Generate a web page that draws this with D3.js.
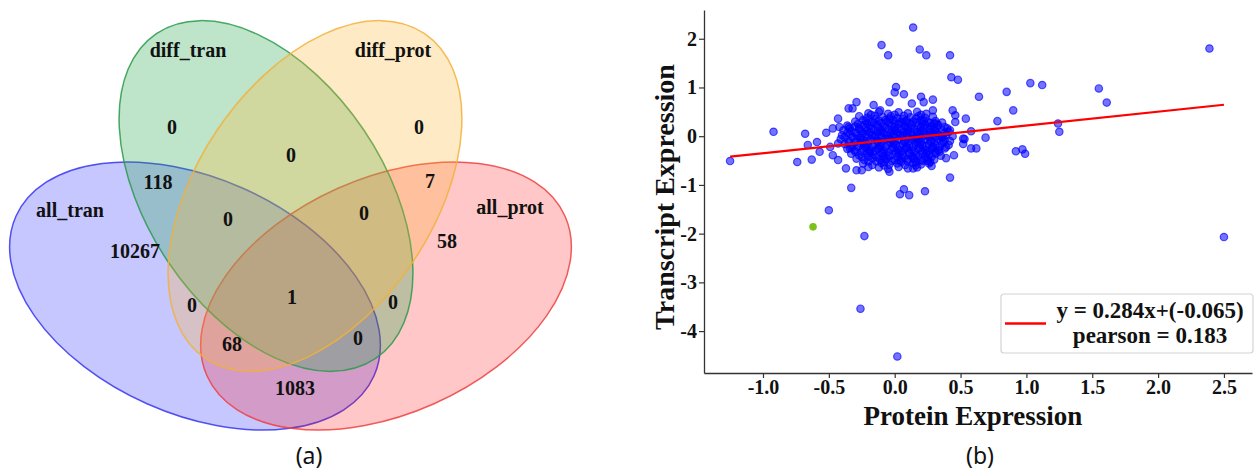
<!DOCTYPE html>
<html>
<head>
<meta charset="utf-8">
<script src="https://cdn.jsdelivr.net/npm/d3@7"></script>
<style>
body { margin: 0; background: #fff; }
text { font-family: "Liberation Serif", "Times New Roman", serif; font-weight: bold; fill: #111; }
.caption { font-family: "Noto Sans", sans-serif; font-weight: normal; }
</style>
</head>
<body>
<script>
// ---- data: venn (a) ----
let setNames = ["all_tran", "all_prot", "diff_tran", "diff_prot"];
let regionSets = [
    "diff_tran", "diff_prot", "diff_tran&diff_prot",
    "all_tran&diff_tran", "all_prot&diff_prot",
    "all_tran&diff_tran&diff_prot", "all_prot&diff_tran&diff_prot",
    "all_tran", "all_prot",
    "all_tran&diff_prot", "all_tran&all_prot&diff_tran&diff_prot", "all_prot&diff_tran",
    "all_tran&all_prot&diff_prot", "all_tran&all_prot&diff_tran",
    "all_tran&all_prot"
];
let regionCounts = [0, 0, 0, 118, 7, 0, 0, 10267, 58, 0, 1, 0, 68, 0, 1083];

// ---- data: scatter (b) ----
let xTicks = [-1.0, -0.5, 0.0, 0.5, 1.0, 1.5, 2.0, 2.5];
let yTicks = [-4, -3, -2, -1, 0, 1, 2];
let fitSlope = 0.284;
let fitIntercept = -0.065;
let fitRange = [-1.25, 2.5];
let legendLines = ["y = 0.284x+(-0.065)", "pearson = 0.183"];
let highlightPoint = [-0.62, -1.86];

let outlierPoints = [
    [-1.25,-0.51],[-0.92,0.09],[-0.74,-0.53],[-0.68,0.05],[-0.66,-0.18],[-0.63,-0.48],[-0.59,-0.12],
    [-0.57,-0.32],[-0.52,0.07],[-0.49,-0.22],[-0.47,-0.39],[-0.43,-0.49],[-0.43,0.36],[-0.42,0.19],
    [-0.47,0.16],[-0.43,-0.15],[-0.35,0.19],[-0.35,0.57],[-0.34,-0.25],
    [-0.5,-1.52],[-0.33,-1.06],[-0.23,-2.05],[-0.26,-3.54],[0.02,-4.52],
    [-0.1,1.87],[-0.05,1.66],[0.14,2.23],[0.19,1.78],[0.24,1.66],[0.42,1.66],[0.43,1.21],[0.48,1.16],
    [0.64,0.81],[0.85,0.91],[0.9,0.53],[0.78,0.31],[0.69,-0.03],[0.92,-0.31],[0.97,-0.27],[0.99,-0.36],
    [1.03,1.09],[1.12,1.05],[1.24,0.26],[1.25,0.09],[1.55,0.98],[1.61,0.69],[2.39,1.8],[2.5,-2.07],
    [0.42,-0.85],[0.04,-1.19],[0.07,-1.09],[0.11,-1.21],[0.23,-1.13],
    [-0.29,0.7],[-0.32,0.57],[-0.29,-0.7],[0.01,1.01],[0.0,0.9],[0.07,0.86],[-0.04,0.7],[0.2,0.81],
    [0.29,0.75],[-0.16,0.64],[-0.11,0.53],[0.13,0.67],[0.22,0.7],
    [0.54,0.36],[0.58,0.1],[0.52,-0.05],[0.45,-0.39],[0.39,-0.45],[0.52,-0.16],[0.62,-0.25],[0.58,-0.25],
    [0.44,0.53],[0.46,0.29],[0.42,0.12],[0.29,0.53],[0.32,0.26],[0.34,-0.32],[0.27,-0.53],[0.14,-0.66],
    [-0.04,-0.73],[-0.2,-0.63],[-0.25,-0.7],[0.46,0.43],[0.53,-0.06],[0.28,-0.61],[-0.37,-0.66]
];

let clusterPoints = [
    [-0.2,0.47],[-0.12,0.5],[-0.05,0.46],[0.03,0.49],[0.1,0.47],[0.17,0.5],[0.24,0.46],
    [-0.27,0.41],[-0.21,0.38],[-0.15,0.42],[-0.09,0.39],[-0.03,0.41],[0.02,0.37],[0.07,0.42],[0.12,0.39],[0.18,0.41],[0.23,0.38],[0.29,0.4],
    [-0.3,0.3],[-0.24,0.33],[-0.18,0.29],[-0.12,0.32],[-0.06,0.3],[-0.01,0.33],[0.04,0.29],[0.09,0.32],[0.14,0.3],[0.2,0.33],[0.25,0.29],[0.31,0.31],[0.36,0.28],
    [-0.36,0.22],[-0.3,0.2],[-0.24,0.23],[-0.19,0.21],[-0.13,0.24],[-0.08,0.2],[-0.02,0.22],[0.03,0.25],[0.08,0.21],[0.13,0.23],[0.18,0.2],[0.23,0.24],[0.28,0.21],[0.33,0.23],[0.38,0.19],
    [-0.39,0.12],[-0.33,0.1],[-0.27,0.14],[-0.21,0.11],[-0.16,0.13],[-0.1,0.1],[-0.05,0.14],[0.0,0.11],[0.05,0.13],[0.1,0.1],[0.15,0.14],[0.2,0.11],[0.26,0.13],[0.31,0.1],[0.36,0.12],[0.41,0.09],
    [-0.4,0.02],[-0.34,0.05],[-0.28,0.01],[-0.22,0.04],[-0.17,0.02],[-0.11,0.05],[-0.06,0.01],[-0.01,0.04],[0.04,0.02],[0.09,0.05],[0.14,0.01],[0.19,0.04],[0.24,0.02],[0.29,0.05],[0.34,0.01],[0.39,0.03],[0.44,0.0],
    [-0.41,-0.06],[-0.35,-0.09],[-0.29,-0.05],[-0.24,-0.08],[-0.18,-0.06],[-0.13,-0.09],[-0.07,-0.05],[-0.02,-0.08],[0.03,-0.06],[0.08,-0.09],[0.13,-0.05],[0.18,-0.08],[0.23,-0.06],[0.28,-0.09],[0.33,-0.05],[0.38,-0.08],[0.42,-0.1],
    [-0.38,-0.16],[-0.32,-0.19],[-0.26,-0.15],[-0.21,-0.18],[-0.15,-0.16],[-0.1,-0.19],[-0.04,-0.15],[0.01,-0.18],[0.06,-0.16],[0.11,-0.19],[0.16,-0.15],[0.21,-0.18],[0.26,-0.16],[0.31,-0.19],[0.36,-0.15],[0.41,-0.18],
    [-0.36,-0.26],[-0.3,-0.29],[-0.24,-0.25],[-0.19,-0.28],[-0.13,-0.26],[-0.08,-0.29],[-0.02,-0.25],[0.03,-0.28],[0.08,-0.26],[0.13,-0.29],[0.18,-0.25],[0.23,-0.28],[0.28,-0.26],[0.33,-0.29],[0.38,-0.25],
    [-0.33,-0.36],[-0.27,-0.39],[-0.21,-0.35],[-0.16,-0.38],[-0.1,-0.36],[-0.05,-0.39],[0.01,-0.35],[0.06,-0.38],[0.11,-0.36],[0.16,-0.39],[0.21,-0.35],[0.26,-0.38],[0.31,-0.36],[0.35,-0.4],
    [-0.29,-0.46],[-0.23,-0.49],[-0.17,-0.45],[-0.11,-0.48],[-0.06,-0.46],[0.0,-0.49],[0.05,-0.45],[0.1,-0.48],[0.15,-0.46],[0.2,-0.49],[0.25,-0.45],[0.3,-0.48],
    [-0.24,-0.56],[-0.17,-0.59],[-0.1,-0.55],[-0.04,-0.58],[0.02,-0.56],[0.08,-0.59],[0.14,-0.55],[0.2,-0.58],[0.26,-0.56],
    [-0.12,-0.64],[-0.05,-0.67],[0.03,-0.63],[0.1,-0.66],[0.17,-0.64],
    [-0.15,0.35],[-0.04,0.36],[0.06,0.35],[0.16,0.36],
    [-0.21,0.26],[-0.1,0.27],[0.0,0.26],[0.11,0.27],[0.21,0.26],[0.3,0.26],
    [-0.27,0.17],[-0.18,0.16],[-0.07,0.17],[0.02,0.16],[0.12,0.17],[0.22,0.16],[0.32,0.17],
    [-0.3,0.07],[-0.19,0.08],[-0.09,0.07],[0.02,0.08],[0.12,0.07],[0.22,0.08],[0.32,0.07],
    [-0.32,-0.02],[-0.21,-0.01],[-0.1,-0.02],[0.0,-0.01],[0.11,-0.02],[0.21,-0.01],[0.31,-0.02],
    [-0.3,-0.12],[-0.2,-0.11],[-0.1,-0.12],[0.0,-0.11],[0.1,-0.12],[0.2,-0.11],[0.3,-0.12],
    [-0.28,-0.22],[-0.17,-0.21],[-0.07,-0.22],[0.04,-0.21],[0.14,-0.22],[0.24,-0.21],[0.34,-0.22],
    [-0.25,-0.32],[-0.15,-0.31],[-0.05,-0.32],[0.05,-0.31],[0.15,-0.32],[0.25,-0.31],
    [-0.2,-0.42],[-0.09,-0.41],[0.02,-0.42],[0.13,-0.41],[0.23,-0.42],
    [-0.14,-0.52],[-0.02,-0.51],[0.1,-0.52],[0.21,-0.51],
    [-0.22,0.31],[-0.07,0.33],[0.08,0.3],[0.22,0.31],
    [-0.25,0.1],[-0.13,0.19],[-0.02,0.12],[0.08,0.19],[0.17,0.09],[0.27,0.18],
    [-0.26,-0.07],[-0.15,0.02],[-0.04,-0.05],[0.06,0.03],[0.16,-0.06],[0.26,0.02],[0.36,-0.03],
    [-0.23,-0.17],[-0.12,-0.25],[-0.01,-0.16],[0.09,-0.24],[0.19,-0.17],[0.29,-0.24],
    [-0.19,-0.34],[-0.08,-0.44],[0.03,-0.35],[0.14,-0.45],[0.24,-0.35],
    [-0.08,-0.6],[0.05,-0.53],[0.16,-0.6],
    [-0.18,0.44],[0.0,0.44],[0.2,0.44],
    [-0.28,0.25],[-0.16,0.27],[-0.04,0.28],[0.06,0.27],[0.17,0.28],[0.27,0.27],
    [-0.34,0.16],[-0.22,0.17],[-0.11,0.15],[0.0,0.18],[0.1,0.15],[0.2,0.18],[0.3,0.15],[0.4,0.16],
    [-0.36,0.07],[-0.24,0.06],[-0.13,0.08],[-0.03,0.06],[0.07,0.08],[0.17,0.06],[0.27,0.08],[0.38,0.07],
    [-0.38,-0.02],[-0.26,-0.03],[-0.15,-0.01],[-0.05,-0.03],[0.06,-0.01],[0.16,-0.03],[0.26,-0.01],[0.36,-0.02],
    [-0.35,-0.12],[-0.24,-0.13],[-0.13,-0.11],[-0.03,-0.13],[0.07,-0.11],[0.17,-0.13],[0.27,-0.11],[0.37,-0.12],
    [-0.33,-0.22],[-0.22,-0.23],[-0.11,-0.21],[-0.01,-0.23],[0.09,-0.21],[0.19,-0.23],[0.29,-0.21],[0.39,-0.22],
    [-0.3,-0.32],[-0.19,-0.31],[-0.09,-0.33],[0.01,-0.31],[0.11,-0.33],[0.21,-0.31],[0.31,-0.32],
    [-0.25,-0.42],[-0.14,-0.43],[-0.04,-0.41],[0.07,-0.43],[0.18,-0.41],[0.28,-0.42],
    [-0.2,-0.52],[-0.08,-0.53],[0.04,-0.5],[0.16,-0.52],[0.25,-0.51]
];

// ---- layout ----
let svgWidth = 1258;
let svgHeight = 470;

let svg = d3.select("body")
    .append("svg")
    .attr("width", svgWidth)
    .attr("height", svgHeight);

svg.append("rect").attr("width", svgWidth).attr("height", svgHeight).attr("fill", "#fff");

// ellipse geometry for the 4-set venn, same order as setNames
let ellipseLayout = [
    {cx: 195, cy: 296, rot: 24},
    {cx: 386, cy: 296, rot: -24},
    {cx: 266, cy: 196, rot: 56},
    {cx: 315, cy: 196, rot: -56}
];
let ellipseRx = 196, ellipseRy = 118;
let ellipseFill = ["rgb(0,0,255)", "rgb(255,0,0)", "rgb(40,170,80)", "rgb(255,180,50)"];
let ellipseFillOpacity = [0.22, 0.22, 0.3, 0.28];
let ellipseStroke = ["#3535ee", "#ee4040", "#2a9a4a", "#f2b03a"];

let setLabelPos = [[70, 217], [510, 214], [188, 57], [393, 57]];
let regionLabelPos = [
    [172, 134], [419, 134], [291, 162],
    [158, 189], [430, 188],
    [228, 226], [364, 220],
    [135, 258], [447, 248],
    [192, 312], [292, 304], [393, 309],
    [232, 351], [358, 345],
    [295, 395]
];

let venn = svg.append("g");

venn.selectAll("ellipse")
    .data(setNames)
    .enter()
    .append("ellipse")
    .attr("transform", (d, i) => `translate(${ellipseLayout[i].cx},${ellipseLayout[i].cy}) rotate(${ellipseLayout[i].rot})`)
    .attr("rx", ellipseRx)
    .attr("ry", ellipseRy)
    .attr("fill", (d, i) => ellipseFill[i])
    .attr("fill-opacity", (d, i) => ellipseFillOpacity[i])
    .attr("stroke", (d, i) => ellipseStroke[i])
    .attr("stroke-opacity", 0.85)
    .attr("stroke-width", 1.5);

venn.selectAll("text.setlabel")
    .data(setNames)
    .enter()
    .append("text")
    .attr("class", "setlabel")
    .attr("x", (d, i) => setLabelPos[i][0])
    .attr("y", (d, i) => setLabelPos[i][1])
    .attr("text-anchor", "middle")
    .attr("font-size", 20)
    .text(d => d);

venn.selectAll("text.count")
    .data(regionCounts)
    .enter()
    .append("text")
    .attr("class", "count")
    .attr("x", (d, i) => regionLabelPos[i][0])
    .attr("y", (d, i) => regionLabelPos[i][1])
    .attr("text-anchor", "middle")
    .attr("font-size", 20)
    .text(d => d);

svg.append("text")
    .attr("class", "caption")
    .attr("x", 309)
    .attr("y", 464)
    .attr("text-anchor", "middle")
    .attr("font-size", 23)
    .text("(a)");

// ---- scatter (b) ----
let xScale = d3.scaleLinear().domain([-1.448, 2.713]).range([704, 1252]);
let yScale = d3.scaleLinear().domain([-4.86, 2.59]).range([373, 10]);

let bottomAxis = d3.axisBottom(xScale)
    .tickValues(xTicks)
    .tickFormat(d => d.toFixed(1))
    .tickSize(5)
    .tickSizeOuter(0);
let leftAxis = d3.axisLeft(yScale)
    .tickValues(yTicks)
    .tickFormat(d => String(d))
    .tickSize(5)
    .tickSizeOuter(0);

// X Axis
let gx = svg.append("g")
    .attr("transform", `translate(0, ${yScale(-4.86)})`)
    .call(bottomAxis);
// Y Axis
let gy = svg.append("g")
    .attr("transform", `translate(${xScale(-1.448)}, 0)`)
    .call(leftAxis);

[gx, gy].forEach(g => {
    g.attr("font-family", null).attr("font-size", null);
    g.select(".domain").attr("stroke", "#333").attr("stroke-width", 1.3);
    g.selectAll(".tick line").attr("stroke", "#333").attr("stroke-width", 1.2);
    g.selectAll(".tick text").attr("font-size", 20).attr("fill", "#111");
});
gx.selectAll(".tick text").attr("dy", "0.7em").attr("y", 7);
gy.selectAll(".tick text").attr("x", -7);

let dots = svg.append("g");
dots.selectAll("circle")
    .data(clusterPoints.concat(outlierPoints))
    .enter()
    .append("circle")
    .attr("cx", d => xScale(d[0]))
    .attr("cy", d => yScale(d[1]))
    .attr("r", 3.7)
    .attr("fill", "blue")
    .attr("fill-opacity", 0.55)
    .attr("stroke", "blue")
    .attr("stroke-opacity", 0.65)
    .attr("stroke-width", 1.2);

svg.append("circle")
    .attr("cx", xScale(highlightPoint[0]))
    .attr("cy", yScale(highlightPoint[1]))
    .attr("r", 3.8)
    .attr("fill", "#7cc21c");

svg.append("line")
    .attr("x1", xScale(fitRange[0]))
    .attr("y1", yScale(fitSlope * fitRange[0] + fitIntercept))
    .attr("x2", xScale(fitRange[1]))
    .attr("y2", yScale(fitSlope * fitRange[1] + fitIntercept))
    .attr("stroke", "#f00")
    .attr("stroke-width", 2.2);

// legend
let legend = svg.append("g");
legend.append("rect")
    .attr("x", 1001).attr("y", 294)
    .attr("width", 252).attr("height", 59)
    .attr("rx", 3)
    .attr("fill", "#fff").attr("fill-opacity", 0.85)
    .attr("stroke", "#d4d4d4").attr("stroke-width", 1.2);
legend.append("line")
    .attr("x1", 1005).attr("x2", 1046)
    .attr("y1", 323.5).attr("y2", 323.5)
    .attr("stroke", "#f00").attr("stroke-width", 2.5);
legend.selectAll("text")
    .data(legendLines)
    .enter()
    .append("text")
    .attr("x", 1150)
    .attr("y", (d, i) => 318 + i * 25)
    .attr("text-anchor", "middle")
    .attr("font-size", 23)
    .text(d => d);

// axis titles
svg.append("text")
    .attr("transform", "translate(674, 197) rotate(-90)")
    .attr("text-anchor", "middle")
    .attr("font-size", 28)
    .text("Transcript Expression");
svg.append("text")
    .attr("x", 973)
    .attr("y", 425)
    .attr("text-anchor", "middle")
    .attr("font-size", 27)
    .text("Protein Expression");

svg.append("text")
    .attr("class", "caption")
    .attr("x", 980)
    .attr("y", 464)
    .attr("text-anchor", "middle")
    .attr("font-size", 23)
    .text("(b)");
</script>
</body>
</html>
